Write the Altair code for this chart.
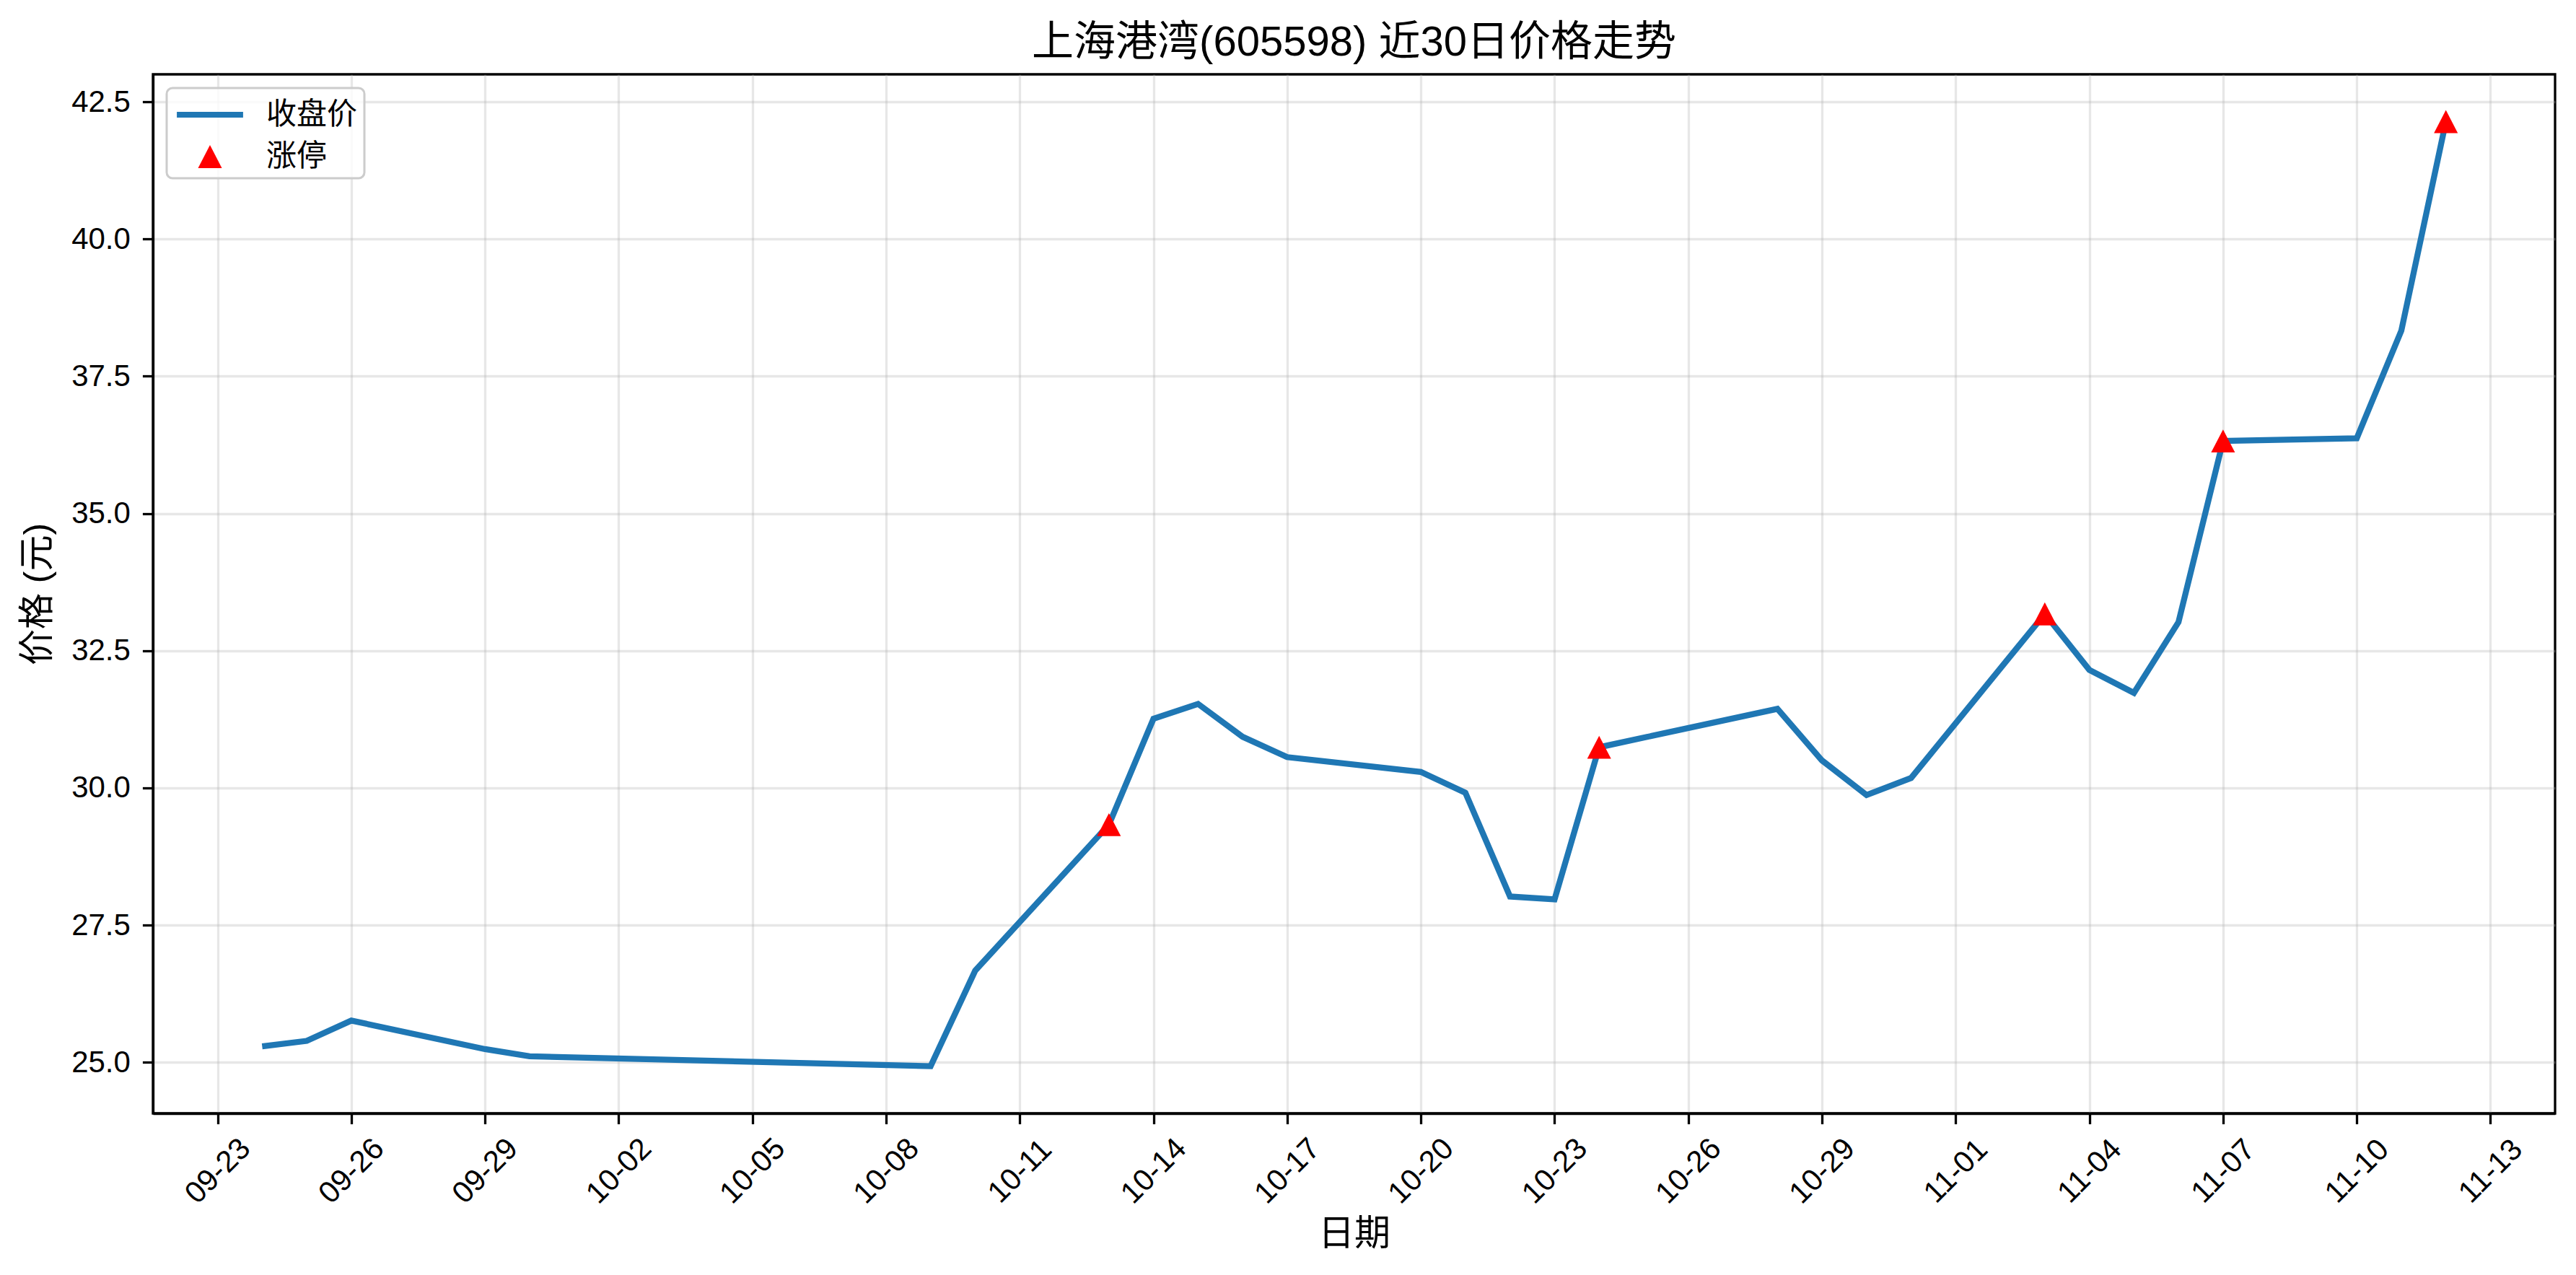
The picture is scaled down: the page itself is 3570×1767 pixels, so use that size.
import altair as alt
import pandas as pd

# ---- data ----
dates = ["2025-09-24", "2025-09-25", "2025-09-26", "2025-09-29", "2025-09-30",
         "2025-10-09", "2025-10-10", "2025-10-13", "2025-10-14", "2025-10-15",
         "2025-10-16", "2025-10-17", "2025-10-20", "2025-10-21", "2025-10-22",
         "2025-10-23", "2025-10-24", "2025-10-28", "2025-10-29", "2025-10-30",
         "2025-10-31", "2025-11-03", "2025-11-04", "2025-11-05", "2025-11-06",
         "2025-11-07", "2025-11-10", "2025-11-11", "2025-11-12"]
close = [25.29, 25.39, 25.76, 25.24, 25.11,
         24.93, 26.67, 29.33, 31.26, 31.53,
         30.93, 30.56, 30.29, 29.91, 28.02,
         27.97, 30.74, 31.44, 30.50, 29.87,
         30.18, 33.17, 32.15, 31.73, 33.02,
         36.32, 36.37, 38.33, 42.14]
limit_up_dates = ["2025-10-13", "2025-10-24", "2025-11-03", "2025-11-07", "2025-11-12"]
series_names = ["收盘价", "涨停"]
x_tick_dates = ["2025-09-23", "2025-09-26", "2025-09-29", "2025-10-02", "2025-10-05",
                "2025-10-08", "2025-10-11", "2025-10-14", "2025-10-17", "2025-10-20",
                "2025-10-23", "2025-10-26", "2025-10-29", "2025-11-01", "2025-11-04",
                "2025-11-07", "2025-11-10", "2025-11-13"]
y_ticks = [25.0, 27.5, 30.0, 32.5, 35.0, 37.5, 40.0, 42.5]

title_text = "上海港湾(605598) 近30日价格走势"
x_title = "日期"
y_title = "价格 (元)"

# ---- tables ----
df = pd.DataFrame({"date": dates, "close": close})
df["series"] = series_names[0]
lu = df[df["date"].isin(limit_up_dates)].copy()
lu["series"] = series_names[1]

def ms(s):
    return int(pd.Timestamp(s, tz="UTC").value // 10**6)

t0, t1 = ms(dates[0]), ms(dates[-1])
span = t1 - t0
x_domain = [t0 - 0.05 * span, t1 + 0.05 * span]
ymin, ymax = min(close), max(close)
yspan = ymax - ymin
y_domain = [ymin - 0.05 * yspan, ymax + 0.05 * yspan]
x_values = [ms(s) for s in x_tick_dates]

FONT = "Liberation Sans, Noto Sans CJK SC"
BLUE = "#1f77b4"
RED = "#ff0000"
LINE_PATH = "M-1.64,-0.14H1.64V0.14H-1.64Z"
TRI_PATH = "M0,-0.57L0.59,0.57L-0.59,0.57Z"

x_enc = alt.X("date:T",
              scale=alt.Scale(type="utc", domain=x_domain, nice=False),
              axis=alt.Axis(values=x_values, title=x_title,
                            labelExpr="utcFormat(datum.value, '%m-%d')",
                            labelAngle=-45, labelAlign="center", labelBaseline="middle",
                            labelPadding=65, labelFontSize=42, labelFont=FONT,
                            labelColor="black", labelOverlap=False, labelFlush=False,
                            titleFontSize=50, titleFont=FONT, titleFontWeight="normal",
                            titleColor="black", titleY=167, titleBaseline="middle"))
y_enc = alt.Y("close:Q",
              scale=alt.Scale(domain=y_domain, nice=False, zero=False),
              axis=alt.Axis(values=y_ticks, format=".1f", title=y_title,
                            labelFontSize=42, labelFont=FONT, labelColor="black",
                            labelPadding=17, labelBaseline="middle",
                            titleFontSize=50, titleFont=FONT, titleFontWeight="normal",
                            titleColor="black", titleX=-160, titleY=720,
                            titleAngle=270, titleAlign="center", titleBaseline="middle"))

legend = alt.Legend(title=None, orient="top-left", offset=19, padding=9,
                    symbolOffset=23, labelOffset=50, rowPadding=9,
                    symbolSize=3136, symbolStrokeWidth=0, symbolOpacity=1,
                    labelFontSize=42, labelFont=FONT, labelColor="black", labelLimit=400,
                    fillColor="rgba(255,255,255,0.8)", strokeColor="#cccccc",
                    cornerRadius=8)

line = alt.Chart(df).mark_line(color=BLUE, strokeWidth=8.3).encode(x=x_enc, y=y_enc)

points = alt.Chart(lu).mark_point(filled=True, opacity=1, size=3136, strokeWidth=0).encode(
    x=x_enc, y=y_enc,
    color=alt.Color("series:N", scale=alt.Scale(domain=series_names, range=[BLUE, RED]),
                    legend=legend),
    shape=alt.Shape("series:N", scale=alt.Scale(domain=series_names, range=[LINE_PATH, TRI_PATH]),
                    legend=legend),
)

chart = alt.layer(line, points).properties(
    width=3329, height=1440,
    autosize=alt.AutoSizeParams(type="none"),
    padding={"left": 204, "top": 95, "right": 21, "bottom": 200},
    title=alt.TitleParams(title_text, fontSize=58, font=FONT, fontWeight="normal",
                          color="black", anchor="middle", offset=14),
).configure_view(
    stroke="black", strokeWidth=3.3
).configure_axis(
    domainColor="black", domainWidth=3.3,
    tickColor="black", tickWidth=3.3, tickSize=14.6,
    grid=True, gridColor="#b0b0b0", gridOpacity=0.3, gridWidth=3.3,
).configure_legend(
    strokeWidth=3
)

chart.save("out.html", embed_options={"renderer": "svg", "actions": False})
